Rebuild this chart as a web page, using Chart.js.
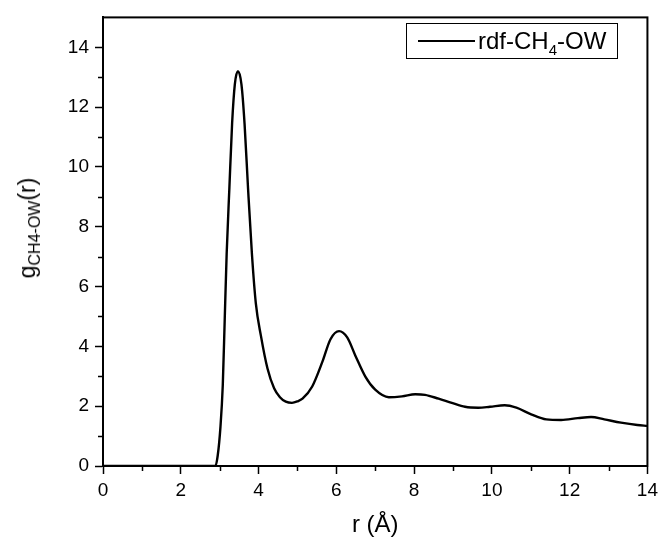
<!DOCTYPE html>
<html>
<head>
<meta charset="utf-8">
<script src="https://cdn.jsdelivr.net/npm/chart.js@4"></script>
<style>
  html, body { margin: 0; padding: 0; background: #fff; }
  #wrap { position: relative; width: 663px; height: 544px; }
  #chart { position: absolute; left: 0; top: 0; }
  .lbl { position: absolute; font-family: "Liberation Sans", Arial, sans-serif; color: #000; white-space: nowrap; }
  #ytitle { font-size: 23px; left: 29px; top: 228px; transform: translate(-50%, -50%) rotate(-90deg); }
  #ytitle sub { font-size: 16px; vertical-align: -5px; }
  #legend { left: 406px; top: 23px; width: 212px; height: 36px; border: 1px solid #000; box-sizing: border-box; font-size: 24px; }
  #legend .swatch { position: absolute; left: 11px; top: 16px; width: 57px; height: 2px; background: #000; }
  #legend .txt { position: absolute; left: 71px; top: 3px; }
  #legend sub { font-size: 15px; vertical-align: -6px; }
</style>
</head>
<body>
<div id="wrap">
  <canvas id="chart" width="663" height="544"></canvas>
  <div id="ytitle" class="lbl">g<sub>CH4-OW</sub>(r)</div>
  <div id="legend" class="lbl"><div class="swatch"></div><div class="txt">rdf-CH<sub>4</sub>-OW</div></div>
</div>
<script>
/* radial distribution function */
const rVals = [0, 2.5, 2.89, 2.95, 3.02, 3.08, 3.13, 3.18, 3.25, 3.32, 3.39, 3.47, 3.56, 3.64,
  3.73, 3.83, 3.93, 4.06, 4.23, 4.40, 4.55, 4.70, 4.86, 5.0, 5.13, 5.38, 5.64, 5.85, 6.07,
  6.28, 6.49, 6.75, 7.0, 7.35, 7.69, 8.03, 8.28, 8.63, 8.97, 9.31, 9.65, 9.95, 10.33, 10.63,
  11.01, 11.40, 11.78, 12.21, 12.55, 12.89, 13.32, 13.74, 14.0];
const gVals = [0, 0, 0, 0.35, 1.3, 2.7, 4.9, 7.1, 9.3, 11.45, 12.76, 13.2, 12.76, 11.45,
  9.28, 7.08, 5.44, 4.36, 3.26, 2.6, 2.3, 2.15, 2.11, 2.16, 2.25, 2.66, 3.48, 4.24, 4.51,
  4.30, 3.69, 2.98, 2.55, 2.30, 2.33, 2.40, 2.38, 2.25, 2.11, 1.98, 1.95, 1.98, 2.03, 1.95,
  1.73, 1.56, 1.54, 1.60, 1.64, 1.56, 1.45, 1.37, 1.34];

const X_MIN = 0, X_MAX = 14, X_STEP = 2;
const Y_MIN = 0, Y_MAX = 15, Y_STEP = 2;

const FONT = '"Liberation Sans", Arial, sans-serif';

// draws the frame round the plot area and the short minor ticks at odd values
const framePlugin = {
  id: 'frame',
  afterDraw(chart) {
    const { ctx, chartArea: a, scales } = chart;
    ctx.save();
    ctx.strokeStyle = '#000';
    ctx.lineWidth = 2;
    ctx.strokeRect(a.left, a.top, a.right - a.left, a.bottom - a.top);
    ctx.lineWidth = 1.5;
    ctx.beginPath();
    for (let v = 1; v < X_MAX; v += 2) {
      const px = Math.round(scales.x.getPixelForValue(v)) + 0.5;
      ctx.moveTo(px, a.bottom);
      ctx.lineTo(px, a.bottom + 5);
    }
    for (let v = 1; v < Y_MAX; v += 2) {
      const py = Math.round(scales.y.getPixelForValue(v)) + 0.5;
      ctx.moveTo(a.left, py);
      ctx.lineTo(a.left - 5, py);
    }
    ctx.stroke();
    ctx.restore();
  },
};

// keep only the even (labelled) ticks, so the axis top (15) gets no mark
const evenTicksOnly = (s) => { s.ticks = s.ticks.filter((t) => t.value % 2 === 0); };

new Chart(document.getElementById('chart'), {
  type: 'line',
  data: {
    datasets: [{
      label: 'rdf-CH4-OW',
      data: rVals.map((r, i) => ({ x: r, y: gVals[i] })),
      borderColor: '#000',
      borderWidth: 2.4,
      pointRadius: 0,
      cubicInterpolationMode: 'monotone',
      fill: false,
    }],
  },
  options: {
    responsive: false,
    animation: false,
    layout: { padding: { top: 9, right: 13, left: 0, bottom: 0 } },
    plugins: { legend: { display: false }, tooltip: { enabled: false } },
    scales: {
      x: {
        type: 'linear',
        min: X_MIN, max: X_MAX,
        afterFit: (s) => { s.height = 78; },
        afterBuildTicks: evenTicksOnly,
        ticks: { stepSize: X_STEP, color: '#000', font: { family: FONT, size: 19 }, padding: 5, maxRotation: 0 },
        grid: { drawOnChartArea: false, tickLength: 8, tickColor: '#000', tickWidth: 1.5 },
        border: { color: '#000', width: 2 },
        title: { display: true, text: 'r (Å)', color: '#000', font: { family: FONT, size: 24 }, padding: { top: 4 } },
      },
      y: {
        min: Y_MIN, max: Y_MAX,
        afterFit: (s) => { s.width = 103; },
        afterBuildTicks: evenTicksOnly,
        ticks: { stepSize: Y_STEP, color: '#000', font: { family: FONT, size: 19 }, padding: 6 },
        grid: { drawOnChartArea: false, tickLength: 8, tickColor: '#000', tickWidth: 1.5 },
        border: { color: '#000', width: 2 },
      },
    },
  },
  plugins: [framePlugin],
});
</script>
</body>
</html>
